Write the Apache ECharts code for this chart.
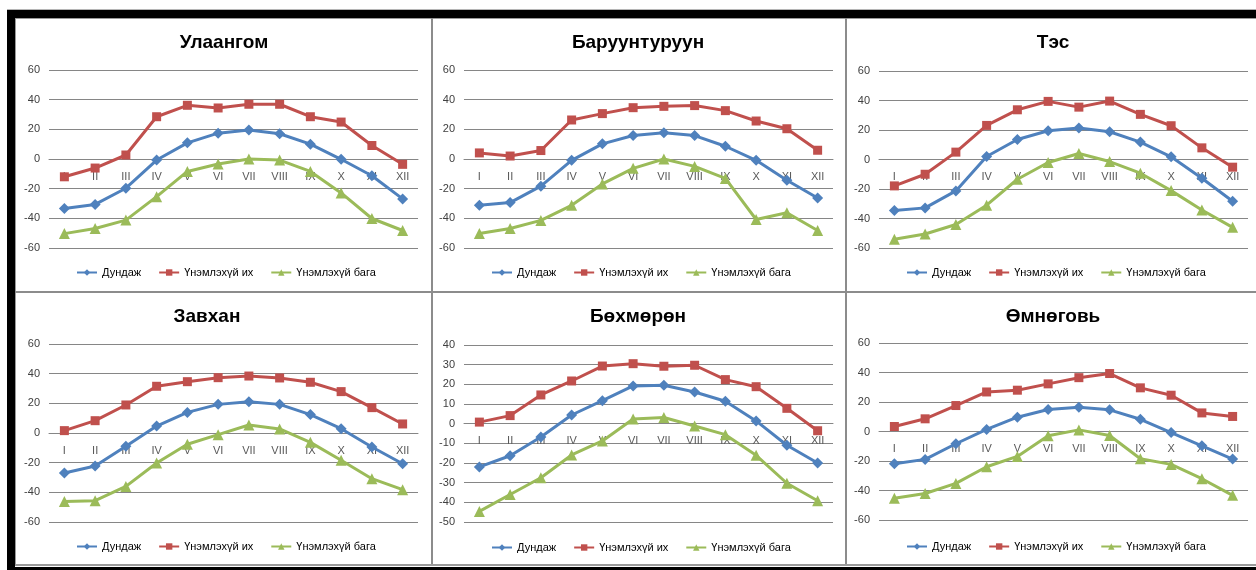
<!DOCTYPE html>
<html>
<head>
<meta charset="utf-8">
<script src="https://cdn.jsdelivr.net/npm/echarts@6/dist/echarts.min.js"></script>
<style>
html,body{margin:0;padding:0;background:#fff;}
#wrap{position:relative;width:1256px;height:570px;overflow:hidden;background:#fff;}
#chart{position:absolute;left:0;top:0;width:1256px;height:570px;}
.b{position:absolute;}
</style>
</head>
<body>
<div id="wrap">
<div id="chart"></div>
<div class="b" style="left:7px;top:9px;width:1249px;height:1px;background:#b5b5b5"></div>
<div class="b" style="left:7px;top:10px;width:1249px;height:8px;background:#000"></div>
<div class="b" style="left:7px;top:10px;width:8px;height:560px;background:#000"></div>
<div class="b" style="left:15px;top:18px;width:1241px;height:1px;background:#9a9a9a"></div>
<div class="b" style="left:15px;top:18px;width:1px;height:548px;background:#9a9a9a"></div>
<div class="b" style="left:431px;top:18px;width:2px;height:548px;background:#8c8c8c"></div>
<div class="b" style="left:845px;top:18px;width:2px;height:548px;background:#8c8c8c"></div>
<div class="b" style="left:15px;top:291px;width:1241px;height:2px;background:#8c8c8c"></div>
<div class="b" style="left:15px;top:564px;width:1241px;height:2px;background:#9a9a9a"></div>
<div class="b" style="left:7px;top:567px;width:1249px;height:3px;background:#000"></div>
</div>
<script>
const months = ['I','II','III','IV','V','VI','VII','VIII','IX','X','XI','XII'];
const seriesNames = ['Дундаж','Үнэмлэхүй их','Үнэмлэхүй бага'];

const ulaangomAvg = [-33.3,-30.6,-19.7,-0.7,10.9,17.4,19.5,17.0,10.0,-0.2,-11.3,-26.9];
const ulaangomMax = [-12.0,-6.1,2.7,28.5,36.2,34.4,36.9,36.9,28.5,24.9,9.1,-3.6];
const ulaangomMin = [-50.3,-46.9,-41.2,-25.4,-8.4,-3.4,0.0,-0.7,-8.4,-22.9,-40.1,-48.2];

const baruunturuunAvg = [-31.2,-29.4,-18.3,-0.9,10.2,15.8,17.7,15.8,8.6,-0.9,-14.3,-26.3];
const baruunturuunMax = [4.1,2.0,5.7,26.3,30.6,34.6,35.5,36.0,32.6,25.6,20.4,5.9];
const baruunturuunMin = [-50.2,-46.9,-41.4,-31.2,-16.8,-6.3,0.0,-5.0,-13.1,-40.8,-36.2,-48.2];

const tesAvg = [-34.6,-32.8,-21.3,2.0,13.6,19.5,21.3,18.8,11.8,1.8,-12.7,-28.3];
const tesMax = [-17.9,-10.0,5.0,23.1,33.7,39.4,35.5,39.6,30.6,22.9,7.9,-5.2];
const tesMin = [-54.1,-50.5,-44.1,-31.0,-13.4,-2.0,4.1,-1.4,-9.3,-21.1,-34.2,-46.0];

const zavkhanAvg = [-27.0,-22.2,-9.0,4.7,13.9,19.3,21.1,19.3,12.4,2.9,-9.4,-20.7];
const zavkhanMax = [1.6,8.3,18.9,31.5,34.6,37.3,38.4,37.1,34.2,27.9,17.1,6.1];
const zavkhanMin = [-46.1,-45.6,-36.0,-20.2,-7.6,-1.1,5.4,2.7,-6.3,-18.4,-30.8,-38.2];

const bukhmurunAvg = [-22.0,-16.3,-6.8,4.4,11.7,19.2,19.5,16.1,11.4,1.4,-11.0,-20.0];
const bukhmurunMax = [0.8,4.1,14.6,21.7,29.3,30.5,29.2,29.7,22.4,18.8,7.8,-3.6];
const bukhmurunMin = [-44.6,-36.0,-27.5,-15.9,-8.8,2.4,3.1,-1.2,-5.6,-16.1,-30.3,-39.2];

const umnugoviAvg = [-21.9,-18.9,-8.3,1.4,9.7,14.9,16.5,14.7,8.3,-0.7,-9.7,-18.7];
const umnugoviMax = [3.4,8.6,17.6,26.8,28.0,32.3,36.5,39.3,29.6,24.6,12.6,10.2];
const umnugoviMin = [-45.3,-42.0,-35.2,-23.9,-16.9,-2.9,1.1,-2.7,-18.5,-22.3,-32.0,-43.3];

const titles = ['Улаангом','Баруунтуруун','Тэс','Завхан','Бөхмөрөн','Өмнөговь'];
const yMins = [-60,-60,-60,-60,-50,-60];
const yMaxs = [60,60,60,60,40,60];
const yIntervals = [20,20,20,20,10,20];

const panelData = [
  [ulaangomAvg, ulaangomMax, ulaangomMin],
  [baruunturuunAvg, baruunturuunMax, baruunturuunMin],
  [tesAvg, tesMax, tesMin],
  [zavkhanAvg, zavkhanMax, zavkhanMin],
  [bukhmurunAvg, bukhmurunMax, bukhmurunMin],
  [umnugoviAvg, umnugoviMax, umnugoviMin]
];

// layout (pixels)
const grids = [
  {left:49, top:70, width:369, height:178},
  {left:464, top:70, width:369, height:178},
  {left:879, top:71, width:369, height:177},
  {left:49, top:344, width:369, height:178},
  {left:464, top:345, width:369, height:177},
  {left:879, top:343, width:369, height:177}
];
const titlePos = [[224,33],[638,33],[1053,33],[207,307],[638,307],[1053,307]];
const legendPos = [[76,267],[491,267],[906,267],[76,541],[491,542],[906,541]];

const colors = ['#4F81BD','#C0504D','#9BBB59'];
const symbols = ['diamond','rect','triangle'];
const symbolSizes = [11,9,11];
const FONT = '"Liberation Sans", Arial, sans-serif';

const option = {
  animation:false,
  backgroundColor:'transparent',
  color: colors,
  title: titles.map((t,i)=>({
    text:t, left:titlePos[i][0], top:titlePos[i][1], textAlign:'center', padding:0,
    textStyle:{fontFamily:FONT, fontSize:19, fontWeight:'bold', color:'#000'}
  })),
  legend: legendPos.map(p=>({
    data: seriesNames, left:p[0], top:p[1], orient:'horizontal', padding:0,
    itemWidth:20, itemHeight:8, itemGap:17,
    textStyle:{fontFamily:FONT, fontSize:11, color:'#000'}
  })),
  grid: grids.map(g=>Object.assign({containLabel:false}, g)),
  xAxis: grids.map((g,i)=>({
    type:'category', gridIndex:i, data:months, boundaryGap:true, position:'bottom',
    // place the category axis on the zero line of the value axis
    offset: -g.height * (0 - yMins[i]) / (yMaxs[i] - yMins[i]),
    axisLine:{show:true, onZero:false, lineStyle:{color:'#868686', width:1}},
    axisTick:{show:false},
    axisLabel:{margin:12, fontFamily:FONT, fontSize:11, color:'#595959'},
    splitLine:{show:false}
  })),
  yAxis: grids.map((g,i)=>({
    type:'value', gridIndex:i, min:yMins[i], max:yMaxs[i], interval:yIntervals[i],
    axisLine:{show:false}, axisTick:{show:false},
    axisLabel:{margin:9, fontFamily:FONT, fontSize:11, color:'#404040'},
    splitLine:{show:true, lineStyle:{color:'#868686', width:1}}
  })),
  series: []
};

panelData.forEach((arrs,i)=>{
  arrs.forEach((vals,k)=>{
    option.series.push({
      type:'line', name:seriesNames[k], xAxisIndex:i, yAxisIndex:i, data:vals,
      symbol:symbols[k], symbolSize:symbolSizes[k], showAllSymbol:true,
      lineStyle:{width:3, color:colors[k]},
      itemStyle:{color:colors[k]},
      z: 3
    });
  });
});

const chart = echarts.init(document.getElementById('chart'), null, {renderer:'canvas'});
chart.setOption(option);
</script>
</body>
</html>
